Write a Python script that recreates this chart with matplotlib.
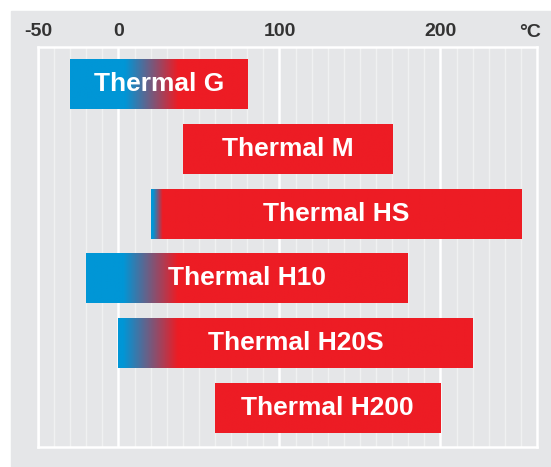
import numpy as np
import matplotlib.pyplot as plt
from matplotlib.colors import to_rgb
from matplotlib.patches import Rectangle

plt.rcParams["font.family"] = ["Liberation Sans", "DejaVu Sans"]

# temperature ranges in deg C
products = ["Thermal G", "Thermal M", "Thermal HS",
            "Thermal H10", "Thermal H20S", "Thermal H200"]
t_min = [-30, 40, 20, -20, 0, 60]
t_max = [80, 170, 250, 180, 220, 200]
# blue -> red blend zone of each bar (None = solid red)
blend_from = [4, None, 21, 3, 3, None]
blend_to = [37, None, 27, 37, 37, None]
tick_vals = [-50, 0, 100, 200]
tick_text = ["-50", "0", "100", "200"]

bg = "#e5e6e8"
minor_col = "#f0f1f2"
blue = np.array(to_rgb("#0096d6"))
red = np.array(to_rgb("#ed1c24"))

fig = plt.figure(figsize=(5.51, 4.67), dpi=100)
# grey panel behind everything
fig.patches.append(Rectangle((11 / 551, 0), 1, 1 - 11 / 467,
                             transform=fig.transFigure, color=bg, zorder=-5))

ax = fig.add_axes([38 / 551, 20 / 467, 499 / 551, 400 / 467])
ax.set_zorder(2)
ax.set_facecolor(bg)

bar_h = 0.77
for i, name in enumerate(products):
    lo, hi = t_min[i], t_max[i]
    xs = np.linspace(lo, hi, 400)
    if blend_from[i] is None:
        frac = np.ones_like(xs)
    else:
        frac = np.clip((xs - blend_from[i]) / (blend_to[i] - blend_from[i]), 0, 1)
    img = blue[None, :] * (1 - frac[:, None]) + red[None, :] * frac[:, None]
    ax.imshow(img[None, :, :], extent=[lo, hi, i + bar_h / 2, i - bar_h / 2],
              aspect="auto", interpolation="bilinear", zorder=3)
    ax.text((lo + hi) / 2, i, name, color="white", fontsize=19,
            fontweight="bold", ha="center", va="center", zorder=4)

ax.set_xlim(-50, 260)
ax.set_ylim(len(products) - 0.4, -0.57)

# grid: light minor lines every 10, white major lines
ax.set_xticks(np.arange(-40, 260, 10), minor=True)
ax.set_xticks(tick_vals)
ax.set_xticklabels(tick_text, fontsize=14, fontweight="bold", color="#333333")
ax.grid(which="minor", axis="x", color=minor_col, linewidth=1, zorder=1)
ax.grid(which="major", axis="x", color="white", linewidth=1.8, zorder=2)
ax.set_axisbelow(True)
ax.set_yticks([])
ax.xaxis.tick_top()
ax.tick_params(axis="x", which="both", length=0, pad=5)

ax.text(256, 1.036, "°C", transform=ax.get_xaxis_transform(), fontsize=14,
        fontweight="bold", color="#333333", ha="center", va="center")

for s in ax.spines.values():
    s.set_color("white")
    s.set_linewidth(1.8)

fig.savefig("out.png", dpi=100)
